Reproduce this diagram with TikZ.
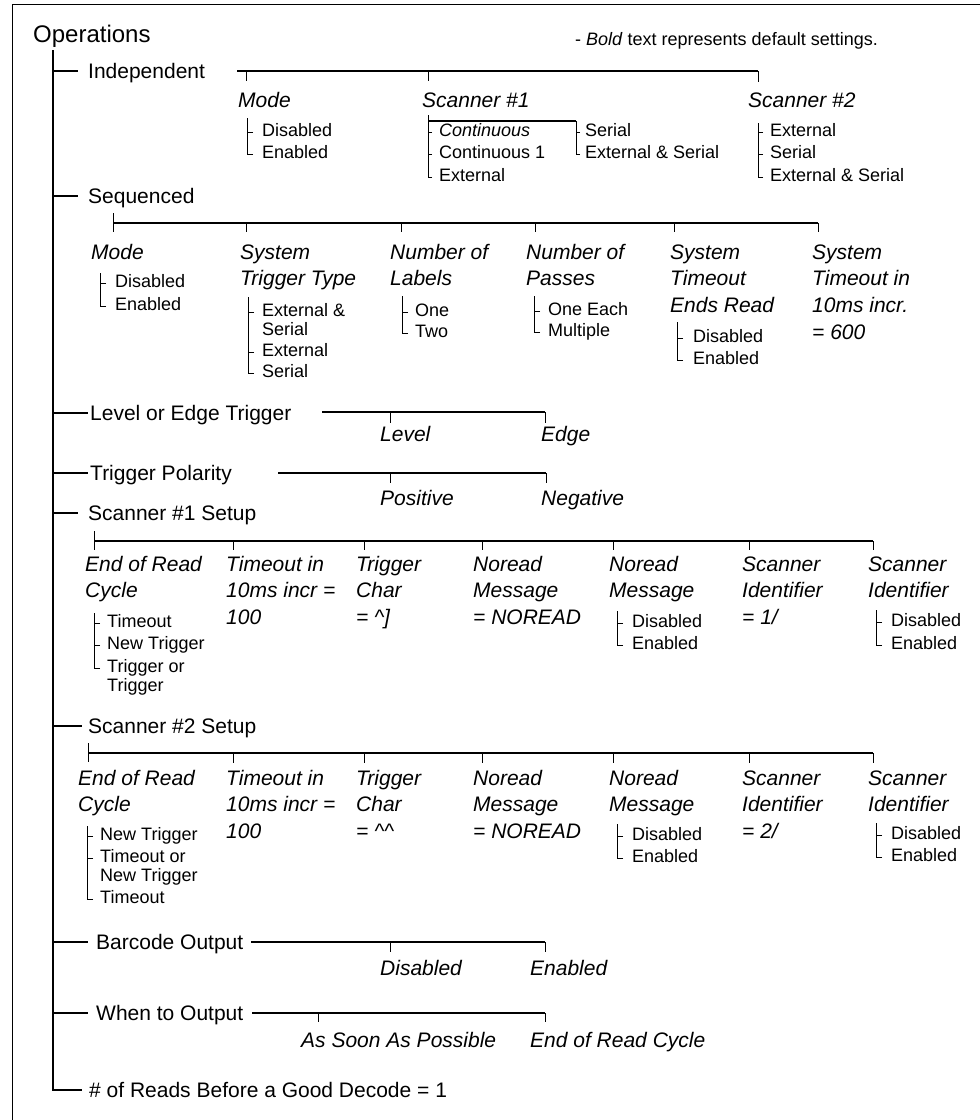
\documentclass[tikz,border=0pt]{standalone}
\usepackage{fontspec}
\setmainfont{Liberation Sans}
\usetikzlibrary{calc}

% stacked lines, baseline on the first line
\newcommand\lines[1]{\begin{tabular}[t]{@{}l@{}}#1\end{tabular}}

% one choice of a setting: text node plus its tick on the spine
% #1 tick length, #2 node name, #3 spine coordinate, #4 x, #5 y, #6 text
\newcommand\optitem[6][6]{%
  \node[itm] (#2) at (#4,#5) {#6};
  \draw[tk] (#3 |- #2.west) ++(#1,1.5) -| (#3);
}

\begin{document}
\begin{tikzpicture}[x=1pt,y=-1pt,
  lbl/.style={anchor=west,inner sep=0pt,text height=15pt,text depth=0pt,
    font=\fontsize{21}{26.7}\selectfont},
  ttl/.style={anchor=west,inner sep=0pt,text height=17.2pt,text depth=0pt,
    font=\fontsize{24}{28}\selectfont},
  hdr/.style={lbl,font=\fontsize{21}{26.7}\selectfont\itshape},
  itm/.style={anchor=west,inner sep=0pt,text height=12.9pt,text depth=0pt,
    font=\fontsize{18}{19}\selectfont},
  trunkline/.style={line width=2pt},
  bar/.style={line width=2pt},
  tk/.style={line width=1pt},
  frameline/.style={line width=1pt}]

\useasboundingbox (0,0) rectangle (980,1120);

% open frame
\draw[frameline] (980,4) -- (12,4) -- (12,1120);

% title and legend
\node[ttl] (ops) at (33,33.5) {Operations};
\node[itm] (legend) at (575,39.5) {- \textit{Bold} text represents default settings.};

% main entries
\node[lbl] (ind) at (88,71) {Independent};
\node[lbl] (seq) at (88,195.5) {Sequenced};
\node[lbl] (lvl) at (90,412.5) {Level or Edge Trigger};
\node[lbl] (pol) at (90,473) {Trigger Polarity};
\node[lbl] (sa) at (88,513) {Scanner \#1 Setup};
\node[lbl] (sb) at (88,725.5) {Scanner \#2 Setup};
\node[lbl] (bco) at (96,942) {Barcode Output};
\node[lbl] (wto) at (96,1013) {When to Output};
\node[lbl] (nrd) at (89,1090) {\# of Reads Before a Good Decode = 1};

% trunk with its branches
\coordinate (trunk) at (53,50);
\draw[trunkline] (trunk) |- ([shift={(-7,0)}]nrd.west);
\foreach \n/\g in {ind/10,seq/10,lvl/2,pol/2,sa/10,sb/6,bco/8,wto/8}
  \draw[trunkline] (trunk |- \n.west) -- ([shift={(-\g,0)}]\n.west);

% ---------------- Independent ----------------
\draw[bar] (237,71) -- (758,71);
\foreach \x/\l in {246/10,428/10,758/11} \draw[tk] (\x,71) -- ++(0,\l);
\node[hdr] (in-mode) at (238,99.5) {Mode};
\node[hdr] (in-sc1) at (422,99.5) {Scanner \#1};
\node[hdr] (in-sc2) at (748,99.5) {Scanner \#2};

\coordinate (in-m-sp) at (247,118);
\optitem{in-m1}{in-m-sp}{262}{130.5}{Disabled}
\optitem{in-m2}{in-m-sp}{262}{152.5}{Enabled}

\coordinate (in-a-sp) at (428,115);
\coordinate (in-b-sp) at (576,121);
\draw[bar] (in-a-sp |- in-b-sp) -- (in-b-sp);
\optitem[4]{in-a1}{in-a-sp}{439}{130.5}{\itshape Continuous}
\optitem[4]{in-a2}{in-a-sp}{439}{152.5}{Continuous 1}
\optitem[4]{in-a3}{in-a-sp}{439}{175.5}{External}
\optitem[4]{in-b1}{in-b-sp}{585}{130.5}{Serial}
\optitem[4]{in-b2}{in-b-sp}{585}{152.5}{External \& Serial}

\coordinate (in-c-sp) at (758,123);
\optitem[5]{in-c1}{in-c-sp}{770}{130.5}{External}
\optitem[5]{in-c2}{in-c-sp}{770}{152.5}{Serial}
\optitem[5]{in-c3}{in-c-sp}{770}{175.5}{External \& Serial}

% ---------------- Sequenced ----------------
\draw[tk] (113,213) -- (113,232);
\draw[bar] (113,223) -- (818,223);
\foreach \x in {246,401,535,674,818} \draw[tk] (\x,223) -- (\x,232);
\node[hdr] (sq-mode) at (91,251.5) {Mode};
\node[hdr] (sq-trg) at (240,251.5) {\lines{System\\Trigger Type}};
\node[hdr] (sq-lab) at (390,251.5) {\lines{Number of\\Labels}};
\node[hdr] (sq-pas) at (526,251.5) {\lines{Number of\\Passes}};
\node[hdr] (sq-end) at (670,251.5) {\lines{System\\Timeout\\Ends Read}};
\node[hdr] (sq-tmo) at (812,251.5) {\lines{System\\Timeout in\\10ms incr.\\= 600}};

\coordinate (sq-m-sp) at (100,273);
\optitem{sq-m1}{sq-m-sp}{115}{281.5}{Disabled}
\optitem{sq-m2}{sq-m-sp}{115}{304.5}{Enabled}

\coordinate (sq-t-sp) at (248,297);
\optitem{sq-t1}{sq-t-sp}{262}{310.5}{\lines{External \&\\Serial}}
\optitem{sq-t2}{sq-t-sp}{262}{350.5}{External}
\optitem{sq-t3}{sq-t-sp}{262}{371.5}{Serial}

\coordinate (sq-l-sp) at (402,296);
\optitem{sq-l1}{sq-l-sp}{415}{310.5}{One}
\optitem{sq-l2}{sq-l-sp}{415}{331.5}{Two}

\coordinate (sq-p-sp) at (534,296);
\optitem{sq-p1}{sq-p-sp}{548}{309.5}{One Each}
\optitem{sq-p2}{sq-p-sp}{548}{330.5}{Multiple}

\coordinate (sq-e-sp) at (677,322);
\optitem{sq-e1}{sq-e-sp}{693}{336.5}{Disabled}
\optitem{sq-e2}{sq-e-sp}{693}{358.5}{Enabled}

% ---------------- Level or Edge Trigger ----------------
\draw[bar] (322,412) -- (545,412);
\foreach \x in {390,545} \draw[tk] (\x,412) -- (\x,423);
\node[hdr] (lv-level) at (380,433.5) {Level};
\node[hdr] (lv-edge) at (541,433.5) {Edge};

% ---------------- Trigger Polarity ----------------
\draw[bar] (278,473) -- (546,473);
\foreach \x in {390,546} \draw[tk] (\x,473) -- (\x,483);
\node[hdr] (pl-pos) at (380,497.5) {Positive};
\node[hdr] (pl-neg) at (541,497.5) {Negative};

% ---------------- Scanner #1 Setup ----------------
\draw[tk] (94,531) -- (94,550);
\draw[bar] (94,541) -- (873,541);
\foreach \x in {233,364,482,613,749,873} \draw[tk] (\x,541) -- (\x,550);
\node[hdr] (sa-eor) at (85,563.5) {\lines{End of Read\\Cycle}};
\node[hdr] (sa-tmo) at (226,563.5) {\lines{Timeout in\\10ms incr =\\100}};
\node[hdr] (sa-chr) at (356,563.5) {\lines{Trigger\\Char\\= \textasciicircum]}};
\node[hdr] (sa-msg) at (473,563.5) {\lines{Noread\\Message\\= NOREAD}};
\node[hdr] (sa-nrm) at (609,563.5) {\lines{Noread\\Message}};
\node[hdr] (sa-sid) at (742,563.5) {\lines{Scanner\\Identifier\\= 1/}};
\node[hdr] (sa-sie) at (868,563.5) {\lines{Scanner\\Identifier}};

\coordinate (sa-e-sp) at (94,613);
\optitem{sa-e1}{sa-e-sp}{107}{621.5}{Timeout}
\optitem{sa-e2}{sa-e-sp}{107}{643.5}{New Trigger}
\optitem{sa-e3}{sa-e-sp}{107}{666.5}{\lines{Trigger or\\Trigger}}

\coordinate (sa-n-sp) at (617,611);
\optitem{sa-n1}{sa-n-sp}{632}{621.5}{Disabled}
\optitem{sa-n2}{sa-n-sp}{632}{643.5}{Enabled}

\coordinate (sa-i-sp) at (876,610);
\optitem{sa-i1}{sa-i-sp}{891}{620.5}{Disabled}
\optitem{sa-i2}{sa-i-sp}{891}{643.5}{Enabled}

% ---------------- Scanner #2 Setup ----------------
\draw[tk] (88,743) -- (88,762);
\draw[bar] (88,753) -- (873,753);
\foreach \x in {233,364,482,613,749,873} \draw[tk] (\x,753) -- (\x,763);
\node[hdr] (sb-eor) at (78,777.5) {\lines{End of Read\\Cycle}};
\node[hdr] (sb-tmo) at (226,777.5) {\lines{Timeout in\\10ms incr =\\100}};
\node[hdr] (sb-chr) at (356,777.5) {\lines{Trigger\\Char\\= \textasciicircum\textasciicircum}};
\node[hdr] (sb-msg) at (473,777.5) {\lines{Noread\\Message\\= NOREAD}};
\node[hdr] (sb-nrm) at (609,777.5) {\lines{Noread\\Message}};
\node[hdr] (sb-sid) at (742,777.5) {\lines{Scanner\\Identifier\\= 2/}};
\node[hdr] (sb-sie) at (868,777.5) {\lines{Scanner\\Identifier}};

\coordinate (sb-e-sp) at (87,826);
\optitem{sb-e1}{sb-e-sp}{100}{834.5}{New Trigger}
\optitem{sb-e2}{sb-e-sp}{100}{856.5}{\lines{Timeout or\\New Trigger}}
\optitem{sb-e3}{sb-e-sp}{100}{897.5}{Timeout}

\coordinate (sb-n-sp) at (617,824);
\optitem{sb-n1}{sb-n-sp}{632}{834.5}{Disabled}
\optitem{sb-n2}{sb-n-sp}{632}{856.5}{Enabled}

\coordinate (sb-i-sp) at (876,823);
\optitem{sb-i1}{sb-i-sp}{891}{833.5}{Disabled}
\optitem{sb-i2}{sb-i-sp}{891}{855.5}{Enabled}

% ---------------- Barcode Output ----------------
\draw[bar] (251,942) -- (545,942);
\foreach \x in {390,545} \draw[tk] (\x,942) -- (\x,952);
\node[hdr] (bc-dis) at (380,967.5) {Disabled};
\node[hdr] (bc-en) at (530,967.5) {Enabled};

% ---------------- When to Output ----------------
\draw[bar] (252,1013) -- (545,1013);
\foreach \x in {318,545} \draw[tk] (\x,1013) -- (\x,1022);
\node[hdr] (wt-asap) at (301,1039.5) {As Soon As Possible};
\node[hdr] (wt-eor) at (530,1039.5) {End of Read Cycle};

\end{tikzpicture}
\end{document}
